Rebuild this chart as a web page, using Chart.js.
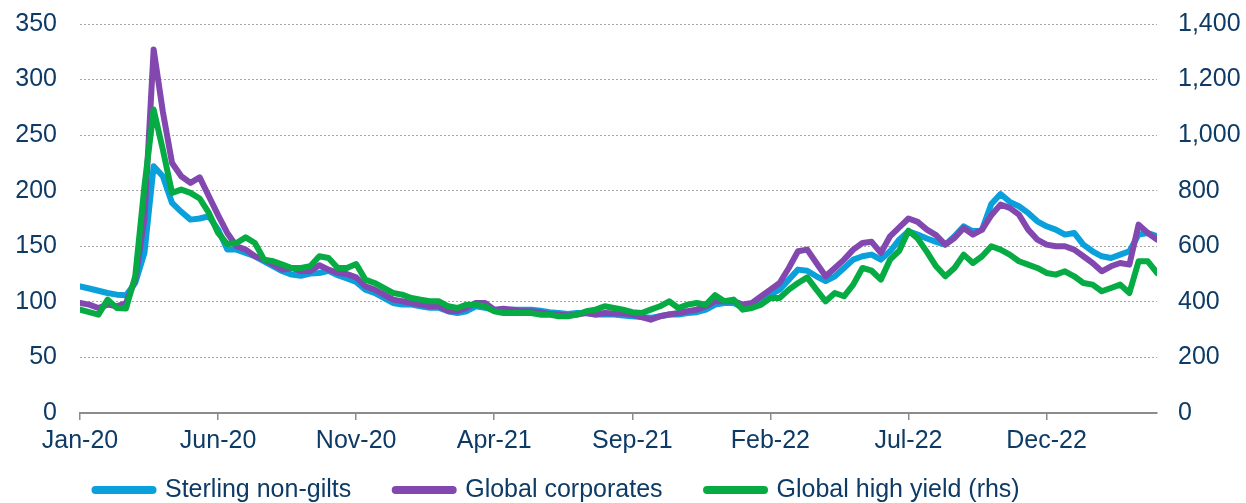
<!DOCTYPE html>
<html>
<head>
<meta charset="utf-8">
<script src="https://cdn.jsdelivr.net/npm/chart.js@4.4.0/dist/chart.umd.min.js"></script>
<style>
  html, body { margin: 0; padding: 0; background: #fff; }
</style>
</head>
<body>
<canvas id="spreads" width="1246" height="503"></canvas>
<script>
// ---- Data (one value every third of a month, Jan-20 .. Mar-23) ----
const STEP = 1 / 3;

const tickMonths = [0, 5, 10, 15, 20, 25, 30, 35];
const tickLabels = ['Jan-20', 'Jun-20', 'Nov-20', 'Apr-21', 'Sep-21', 'Feb-22', 'Jul-22', 'Dec-22'];

// Sterling non-gilts (lhs, bp)
const sterlingNonGilts = [
  114, 112, 110, 108, 106.5, 106, 117, 144, 222, 213,
  189, 181, 174, 175, 177, 165, 147, 147, 144, 141,
  136.5, 132, 127.5, 124.5, 123.5, 125.5, 126, 128, 124, 121,
  118, 111, 108, 103.6, 99, 97.6, 97.6, 96, 94.6, 94.6,
  91.6, 90, 91.6, 96, 94.6, 93, 92.5, 93, 93, 93,
  92, 90.7, 90, 89, 90, 90, 88.6, 88.6, 88.6, 87.7,
  87, 86.3, 85.6, 87, 88.6, 88.6, 90, 90.7, 93, 97.6,
  99, 99, 94.6, 96, 100.6, 106.6, 111, 120, 129, 128,
  123, 118.6, 123, 130.5, 138, 141, 142.5, 138, 145.5, 156,
  163.5, 160.5, 157, 154, 151.5, 159, 168, 163.5, 165, 188,
  197, 190, 186, 180, 172.5, 168, 165, 160.5, 162, 151.5,
  145.5, 141, 139.5, 142.5, 145.5, 160.5, 162, 159
];

// Global corporates (lhs, bp)
const globalCorporates = [
  99, 97.5, 94.5, 97.5, 96, 99, 120, 175, 327, 271,
  225, 213, 207, 212, 195, 178, 162, 150, 147, 141,
  138, 133.5, 129, 130.5, 127.5, 127.5, 133, 129, 126, 125,
  122, 114, 111, 106.6, 102, 100.6, 99, 97.6, 96, 96,
  91.6, 91.6, 94.6, 99, 99, 93, 93.7, 93, 91.6, 91.6,
  90.7, 89, 88.6, 87.7, 88.6, 90, 88.6, 90, 89.5, 89.5,
  88.6, 86.3, 84, 87, 88.6, 90, 91.6, 93, 96, 100.6,
  100.6, 100.6, 97.6, 99, 105, 111, 117, 130.5, 145.5, 147,
  135, 123, 130.5, 138, 147, 153, 154, 144, 159, 167,
  175, 172, 165, 160, 151.5, 157.5, 166.5, 160.5, 165, 178,
  187.5, 184.5, 178.5, 165, 156, 151.5, 150, 150, 147, 141,
  135, 127.5, 132, 135, 133.5, 169.5, 162, 156
];

// Global high yield (rhs, bp)
const globalHighYield = [
  372, 363, 354, 408, 378, 376, 492, 816, 1092, 948,
  792, 804, 792, 772, 720, 648, 608, 612, 632, 612,
  552, 546, 534, 522, 522, 528, 564, 558, 522, 522,
  536, 480, 468, 450, 432, 426, 414, 408, 402, 402,
  384, 378, 390, 390, 384, 366, 360, 360, 360, 360,
  354, 354, 348, 348, 354, 366, 372, 384, 378, 372,
  363, 360, 372, 384, 402, 378, 390, 396, 390, 424,
  402, 408, 372, 378, 390, 414, 414, 444, 468, 488,
  444, 402, 432, 420, 462, 522, 512, 480, 552, 584,
  656, 628, 580, 528, 492, 522, 570, 540, 564, 600,
  588, 570, 546, 534, 522, 504, 498, 510, 492, 468,
  462, 438, 450, 462, 432, 546, 546, 504
];

// ---- Styling ----
const NAVY = '#0d3b66';
const AXIS_GREY = '#8c8c8c';
const GRID_GREY = '#a6a6a6';
const FONT = { family: "'Liberation Sans', Arial, sans-serif", size: 25 };

const toPoints = vals => vals.map((v, i) => ({ x: i * STEP, y: v }));

function lineSet(label, values, color, axis, order) {
  return {
    label,
    data: toPoints(values),
    borderColor: color,
    backgroundColor: color,
    borderWidth: 6,
    borderCapStyle: 'round',
    borderJoinStyle: 'round',
    pointRadius: 0,
    tension: 0,
    fill: false,
    yAxisID: axis,
    order
  };
}

// nudge the legend to where the reference has it (and keep its clip box around the text)
const legendShift = {
  id: 'legendShift',
  afterLayout(chart) {
    const lg = chart.legend;
    if (!lg) return;
    lg.left += 51; lg.right += 51;
    lg.top -= 25; lg.bottom = chart.height;
  }
};

new Chart(document.getElementById('spreads'), {
  type: 'line',
  data: {
    datasets: [
      lineSet('Sterling non-gilts', sterlingNonGilts, '#0aa0dc', 'y', 3),
      lineSet('Global corporates', globalCorporates, '#8248b0', 'y', 2),
      lineSet('Global high yield (rhs)', globalHighYield, '#06ab44', 'y1', 1)
    ]
  },
  options: {
    responsive: false,
    animation: false,
    layout: { padding: { top: 24, left: 0, right: 0, bottom: 0 } },
    plugins: {
      tooltip: { enabled: false },
      legend: {
        position: 'bottom',
        align: 'start',
        maxHeight: 45,
        labels: {
          usePointStyle: true,
          pointStyle: 'line',
          pointStyleWidth: 57,
          padding: 44.5,
          color: NAVY,
          font: FONT,
          sort: (a, b) => a.datasetIndex - b.datasetIndex,
          generateLabels(chart) {
            const items = Chart.defaults.plugins.legend.labels.generateLabels(chart);
            items.forEach(it => { it.lineWidth = 8; it.lineCap = 'round'; });
            return items;
          }
        }
      }
    },
    scales: {
      x: {
        type: 'linear',
        min: 0,
        max: 39,
        afterBuildTicks: s => { s.ticks = tickMonths.map(v => ({ value: v })); },
        afterFit: s => { s.height = 45; },
        ticks: {
          color: NAVY, font: FONT, padding: 6, maxRotation: 0, autoSkip: false,
          callback: (v, i) => tickLabels[i]
        },
        grid: { drawOnChartArea: false, drawTicks: true, tickLength: 7, color: AXIS_GREY, lineWidth: 1.5 },
        border: { display: true, color: AXIS_GREY, width: 2 }
      },
      y: {
        position: 'left',
        min: 0,
        max: 350,
        afterFit: s => { s.width = 80; },
        ticks: { stepSize: 50, color: NAVY, font: FONT, padding: 3 },
        grid: { drawTicks: true, tickLength: 20, tickColor: 'rgba(0,0,0,0)', color: GRID_GREY, lineWidth: 1 },
        border: { display: false, dash: [2, 2] }
      },
      y1: {
        position: 'right',
        min: 0,
        max: 1400,
        afterFit: s => { s.width = 89; },
        ticks: { stepSize: 200, color: NAVY, font: FONT, padding: 3 },
        grid: { drawOnChartArea: false, drawTicks: true, tickLength: 18, tickColor: 'rgba(0,0,0,0)' },
        border: { display: false }
      }
    }
  },
  plugins: [legendShift]
});
</script>
</body>
</html>
